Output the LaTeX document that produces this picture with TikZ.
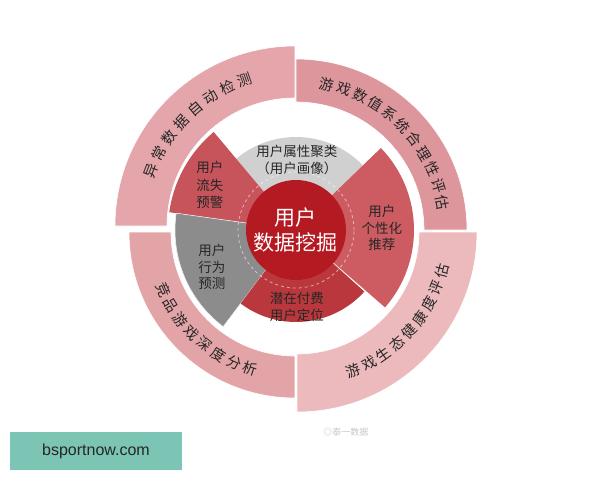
\documentclass[tikz,border=0pt]{standalone}
\usepackage{fontspec}
\newfontfamily\cjk{Noto Sans CJK SC}
\newfontfamily\sitefont{Liberation Sans}
\definecolor{coreRed}{RGB}{180,26,33}
\definecolor{ringTL}{RGB}{228,166,170}
\definecolor{ringTR}{RGB}{221,150,155}
\definecolor{ringBR}{RGB}{236,186,188}
\definecolor{ringBL}{RGB}{227,164,167}
\definecolor{secTop}{RGB}{208,208,208}
\definecolor{secRight}{RGB}{204,92,97}
\definecolor{secBottom}{RGB}{186,56,61}
\definecolor{secLeft}{RGB}{140,140,140}
\definecolor{secWarn}{RGB}{199,84,90}
\definecolor{siteGreen}{RGB}{124,197,180}
\tikzset{
  ringtext/.style={font=\cjk\fontsize{14.5}{14.5}\selectfont, text=black!85, inner sep=0pt},
  sectortext/.style={font=\cjk\fontsize{13.5}{16.5}\selectfont, align=center, text=black!85, inner sep=0pt},
  piece/.style={draw=white, line width=0.6pt},
}
\begin{document}
\begin{tikzpicture}[x=1pt,y=1pt]
    \useasboundingbox (-296,-250) rectangle (304,230);
    % outer ring, four pieces
    \begin{scope}[shift={(-1,4)}]
        \fill[ringTL, piece] (90:180) arc[start angle=90, end angle=180, radius=180] -- (180:128) arc[start angle=180, end angle=90, radius=128] -- cycle;
        \foreach \ch [count=\i from 0] in {异,常,数,据,自,动,检,测} {
            \pgfmathsetmacro\ang{159-\i*7.14}
            \node[ringtext, rotate=\ang-90] (tl-\i) at (\ang:154) {\ch};
        }
    \end{scope}
    \begin{scope}
        \fill[ringTR, piece] (0:171) arc[start angle=0, end angle=90, radius=171] -- (90:128) arc[start angle=90, end angle=0, radius=128] -- cycle;
        \foreach \ch [count=\i from 0] in {游,戏,数,值,系,统,合,理,性,评,估} {
            \pgfmathsetmacro\ang{78-\i*6.74}
            \node[ringtext, rotate=\ang-90] (tr-\i) at (\ang:149) {\ch};
        }
    \end{scope}
    \begin{scope}[shift={(-1,-2)}]
        \fill[ringBL, piece] (180:166) arc[start angle=180, end angle=270, radius=166] -- (270:124) arc[start angle=270, end angle=180, radius=124] -- cycle;
        \foreach \ch [count=\i from 0] in {竞,品,游,戏,深,度,分,析} {
            \pgfmathsetmacro\ang{203.6+\i*6.9}
            \node[ringtext, rotate=\ang+90] (bl-\i) at (\ang:144) {\ch};
        }
    \end{scope}
    \begin{scope}[shift={(1,-2)}]
        \fill[ringBR, piece] (270:180) arc[start angle=270, end angle=360, radius=180] -- (0:122) arc[start angle=360, end angle=270, radius=122] -- cycle;
        \foreach \ch [count=\i from 0] in {游,戏,生,态,健,康,度,评,估} {
            \pgfmathsetmacro\ang{292+\i*6.6}
            \node[ringtext, rotate=\ang+90] (br-\i) at (\ang:150) {\ch};
        }
    \end{scope}
    % inner sectors
    \fill[secTop] (0,0) -- (44:93) arc[start angle=44, end angle=130, radius=93] -- cycle;
    \fill[secWarn] (0,0) -- (130:128) arc[start angle=130, end angle=172, radius=128] -- cycle;
    \fill[secLeft, draw=white!85!gray, line width=0.6pt] (0,0) -- (172:121) arc[start angle=172, end angle=233, radius=121] -- cycle;
    \fill[secBottom] (0,0) -- (233:92) arc[start angle=233, end angle=318, radius=92] -- cycle;
    \fill[secRight] (0,0) -- (-41:118) arc[start angle=-41, end angle=44, radius=118] -- cycle;
    \node[sectortext] (profile) at (1,70) {用户属性聚类\\（用户画像）};
    \node[sectortext] (recommend) at (86,2) {用户\\个性化\\推荐};
    \node[sectortext] (payer) at (1,-77) {潜在付费\\用户定位};
    \node[sectortext] (behaviour) at (-84,-37) {用户\\行为\\预测};
    \node[sectortext, font=\cjk\fontsize{13.5}{17.5}\selectfont] (churn) at (-86,45) {用户\\流失\\预警};
    % core
    \draw[white, opacity=0.55, dashed, line width=0.8pt] (0,0) circle[radius=58];
    \node[circle, fill=coreRed, minimum size=100, inner sep=0pt, text=white, align=center,
          font=\cjk\fontsize{21}{25.5}\selectfont] (core) at (0,0) {用户\\数据挖掘};
    % footer
    \node[fill=siteGreen, minimum width=172, minimum height=38, inner sep=0pt,
          font=\sitefont\fontsize{16}{16}\selectfont, text=black!85] (site) at (-200,-221) {bsportnow.com};
    \node[font=\cjk\fontsize{9}{9}\selectfont, text=black!22] (mark) at (50,-202) {◎泰一数据};
\end{tikzpicture}
\end{document}
